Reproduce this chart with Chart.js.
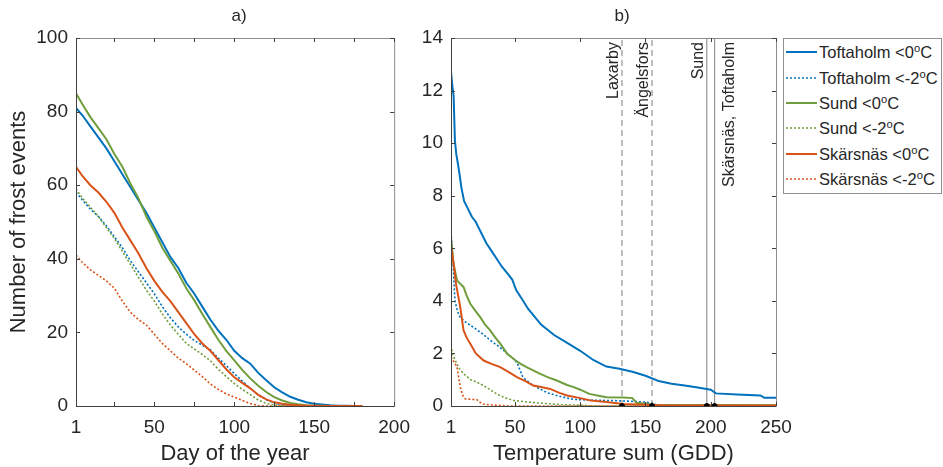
<!DOCTYPE html>
<html><head><meta charset="utf-8">
<script src="https://cdn.jsdelivr.net/npm/chart.js@4/dist/chart.umd.min.js"></script>
<style>
html,body{margin:0;padding:0;background:#fff;}
body{width:943px;height:467px;position:relative;overflow:hidden;font-family:"Liberation Sans",Arial,sans-serif;color:#262626;}
.pane{position:absolute;top:0;height:467px;}
#wa{left:0;width:420px;}
#wb{left:400px;width:543px;}
.ttl{position:absolute;font-size:17px;top:6px;transform:translateX(-50%);}
#legend{position:absolute;left:783px;top:38px;width:159px;height:156px;border:1px solid #8f8f8f;background:#fff;box-sizing:border-box;}
.item{position:absolute;left:2px;height:20px;display:flex;align-items:center;font-size:16.5px;white-space:nowrap;line-height:20px;}
.item svg{margin-right:2px;}
sup{font-size:68%;line-height:0;vertical-align:0.55em;}
</style></head>
<body>
<div class="pane" id="wa"><canvas id="ca"></canvas></div>
<div class="pane" id="wb"><canvas id="cb"></canvas></div>
<div class="ttl" style="left:239px">a)</div>
<div class="ttl" style="left:622px">b)</div>
<div id="legend"></div>
<script>
// ---------- data ----------
const stations = ['Toftaholm', 'Sund', 'Skärsnäs'];
const thresholds = ['<0', '<-2'];

// Panel a: number of frost events after a given day of the year
const days = [1,5,10,15,20,25,30,35,40,45,50,55,60,65,70,75,80,85,90,95,100,105,110,115,120,125,130,135,140,145,150,155,160,165,170,175,180];
const tofDay0  = [81,79,76,73,70,66.5,63,59.5,56,52.5,48.5,44.5,40.5,37.5,33.5,30.5,27,23.5,20.5,18,15,13,11.5,9,7,5.1,3.7,2.5,1.7,1.0,0.6,0.4,0.2,0.1,0.05,0,0];
const tofDay2  = [58,56,53.5,51.5,49,46,43,39.5,36.5,33.5,30.5,27,24,21.5,19.5,17.8,16.5,15.3,13,11,8.8,6.8,4.8,3,1.7,0.8,0.35,0.15,0.05,0,0,0,0,0,0,0,0];
const sunDay0  = [85,82,78.5,75.5,72.5,68.5,65,60.5,56.5,51.5,47.5,43,39.5,36,32,28.7,25,21.5,18,15,12.4,9.8,7.5,5.5,3.8,2.4,1.5,0.8,0.45,0.2,0.1,0.05,0,0,0,0,0];
const sunDay2  = [59,56.5,54,51.5,48.5,45.5,42,38.5,35,31.5,28.5,25,22,19.5,17,15.5,14,12.3,10,8,6.1,4.5,3.1,1.6,0.7,0.25,0.1,0,0,0,0,0,0,0,0,0,0];
const skaDay0  = [65,62.5,60,58,55.5,52.5,48.5,45,41.5,37.5,34,31,28.5,25.5,22.5,19.5,17,15,12.5,10,7.8,6.3,4.8,3,1.8,1.0,0.6,0.35,0.2,0.1,0.05,0,0,0,0,0,0];
const skaDay2  = [41,39,37,35.5,34,32,28.5,25.5,23.5,22,19.5,17,15,13,11.5,9.7,8,6,4.5,3.3,2.4,1.5,0.7,0.1,0,0,0,0,0,0,0,0,0,0,0,0,0];
const dayTicks = [1,25,50,75,100,125,150,175,200];
const dayTickLabels = ['1','','50','','100','','150','','200'];
const countTicks = [0,20,40,60,80,100];

// Panel b: frost events vs temperature sum (GDD)
const tofGdd0x = [1,2,3,4,5,7,9,11,14,17,20,24,28,32,36,40,45,48,51,55,60,65,70,75,80,90,100,110,120,130,140,150,160,170,180,190,200,204,220,238,241,250];
const tofGdd0y = [12.7,12.2,11.8,10.1,9.6,9.0,8.3,7.8,7.5,7.2,7.0,6.6,6.2,5.9,5.6,5.3,5.0,4.8,4.4,4.1,3.7,3.4,3.1,2.9,2.7,2.4,2.1,1.75,1.5,1.42,1.3,1.15,0.95,0.85,0.78,0.7,0.62,0.48,0.44,0.4,0.31,0.31];
const tofGdd2x = [1,2,3,4,6,8,12,18,25,31,38,44,50,52,56,62,69,75,82,90,95,110,130,150,155,160,250];
const tofGdd2y = [6.6,6.0,5.0,4.0,3.6,3.38,3.2,3.0,2.75,2.5,2.25,2.0,1.75,1.6,1.1,0.85,0.65,0.5,0.4,0.3,0.25,0.22,0.2,0.15,0.1,0.03,0.03];
const sunGdd0x = [1,3,5.6,8,10.6,13,15.8,20,23.4,27,31,35,38.7,44,50,54,60,69,75,82,90,95,100,107,115,120,133,140,143,157,250];
const sunGdd0y = [6.4,5.4,4.78,4.65,4.53,4.2,3.89,3.6,3.38,3.1,2.88,2.6,2.37,1.99,1.75,1.61,1.45,1.23,1.1,0.97,0.8,0.72,0.62,0.46,0.38,0.33,0.32,0.3,0.12,0.05,0.03];
const sunGdd2x = [1,2,4.3,7,10.6,16,23.4,30,36,42,48.9,60,69.4,85,100,110,250];
const sunGdd2y = [2.3,2.0,1.73,1.45,1.23,1.0,0.85,0.65,0.46,0.32,0.21,0.15,0.11,0.05,0.03,0,0];
const skaGdd0x = [1,3,5,8.1,10.6,13,15.8,20,26,32,38.7,45,51.5,58,64,70,77,84,90,100,108,120,133,150,165,250];
const skaGdd0y = [6.1,5.4,4.6,3.76,2.88,2.6,2.37,2.0,1.73,1.6,1.48,1.3,1.1,0.95,0.78,0.72,0.65,0.5,0.4,0.3,0.21,0.15,0.08,0.05,0.02,0.02];
const skaGdd2x = [1,3,5.6,8.1,10,12,20.9,24.7,30,36,45,250];
const skaGdd2y = [1.86,1.7,1.48,0.72,0.4,0.27,0.24,0.08,0.05,0.03,0,0];
const gddTicks = [1,50,100,150,200,250];
const eventTicks = [0,2,4,6,8,10,12,14];

// Last frost thresholds per site (GDD)
const markerGdd = [132,155,197,203];
const markerLabels = ['Laxarby','Ängelsfors','Sund','Skärsnäs, Toftaholm'];

// ---------- styling ----------
const FONT = '"Liberation Sans", Arial, sans-serif';
const TXT = '#262626';
const colors = ['#0072BD','#709E3C','#D95319'];
Chart.defaults.font.family = FONT;
Chart.defaults.color = TXT;
Chart.defaults.animation = false;

const seriesA = [[tofDay0,tofDay2],[sunDay0,sunDay2],[skaDay0,skaDay2]];
const seriesB = [[[tofGdd0x,tofGdd0y],[tofGdd2x,tofGdd2y]],[[sunGdd0x,sunGdd0y],[sunGdd2x,sunGdd2y]],[[skaGdd0x,skaGdd0y],[skaGdd2x,skaGdd2y]]];

function styleFor(si, ti){
  return ti === 0
    ? {borderColor: colors[si], borderWidth: 2, borderDash: []}
    : {borderColor: colors[si], borderWidth: 1.6, borderDash: [2,2]};
}

const dsA = [];
stations.forEach((s, si) => thresholds.forEach((t, ti) => {
  const k = si*2+ti;
  dsA.push(Object.assign({
    label: s + ' ' + t,
    data: days.map((d, i) => ({x: d, y: seriesA[si][ti][i]})),
    pointRadius: 0, tension: 0, order: 10 - k
  }, styleFor(si, ti)));
}));
const dsB = [];
stations.forEach((s, si) => thresholds.forEach((t, ti) => {
  const k = si*2+ti;
  const [xs, ys] = seriesB[si][ti];
  dsB.push(Object.assign({
    label: s + ' ' + t,
    data: xs.map((x, i) => ({x: x, y: ys[i]})),
    pointRadius: 0, tension: 0, order: 10 - k
  }, styleFor(si, ti)));
}));
markerGdd.forEach((g, i) => {
  dsB.push({
    label: 'm' + i, data: [{x: g, y: 0}, {x: g, y: 14}],
    borderColor: '#7f7f7f', borderWidth: 1, borderDash: i < 2 ? [6,4] : [],
    pointRadius: 0, order: 20
  });
});
dsB.push({
  label: 'dots', data: markerGdd.map(g => ({x: g, y: 0})),
  showLine: false, pointRadius: 2.5, pointBackgroundColor: '#000', pointBorderColor: '#000', order: -1
});

// inner ticks + box
const boxPlugin = {
  id: 'boxTicks',
  afterDatasetsDraw(chart){
    const {ctx, chartArea: a} = chart;
    const xs = chart.scales.x, ys = chart.scales.y;
    ctx.save();
    ctx.lineWidth = 1;
    ctx.strokeStyle = '#8c8c8c';
    ctx.beginPath();
    ctx.moveTo(a.left, a.top + 0.5); ctx.lineTo(a.right + 0.5, a.top + 0.5); ctx.lineTo(a.right + 0.5, a.bottom);
    ctx.stroke();
    ctx.strokeStyle = '#404040';
    ctx.beginPath();
    ctx.moveTo(a.left + 0.5, a.top); ctx.lineTo(a.left + 0.5, a.bottom + 0.5); ctx.lineTo(a.right + 0.5, a.bottom + 0.5);
    ctx.stroke();
    ctx.beginPath();
    const L = 4;
    xs.ticks.forEach(t => {
      const p = Math.round(xs.getPixelForValue(t.value)) + 0.5;
      ctx.moveTo(p, a.bottom); ctx.lineTo(p, a.bottom - L);
      ctx.moveTo(p, a.top); ctx.lineTo(p, a.top + L);
    });
    ys.ticks.forEach(t => {
      const p = Math.round(ys.getPixelForValue(t.value)) + 0.5;
      ctx.moveTo(a.left, p); ctx.lineTo(a.left + L, p);
      ctx.moveTo(a.right, p); ctx.lineTo(a.right - L, p);
    });
    ctx.stroke();
    ctx.restore();
  }
};

const markerLabelPlugin = {
  id: 'markerLabels',
  afterDatasetsDraw(chart){
    const {ctx, chartArea: a} = chart;
    const xs = chart.scales.x;
    ctx.save();
    ctx.fillStyle = TXT;
    ctx.font = '16px ' + FONT;
    ctx.textAlign = 'right';
    ctx.textBaseline = 'alphabetic';
    markerGdd.forEach((g, i) => {
      const p = xs.getPixelForValue(g);
      const bx = i === markerGdd.length - 1 ? p + 19 : p - 4;
      ctx.save();
      ctx.translate(bx, a.top + 4);
      ctx.rotate(-Math.PI/2);
      ctx.fillText(markerLabels[i], 0, 0);
      ctx.restore();
    });
    ctx.restore();
  }
};

function xScale(min, max, tickVals, labels, title, h){
  return {
    type: 'linear', min: min, max: max,
    grid: {display: false, drawTicks: false}, border: {display: false},
    afterBuildTicks: s => { s.ticks = tickVals.map(v => ({value: v})); },
    afterFit: s => { s.height = h; },
    ticks: {autoSkip: false, maxRotation: 0, padding: 10, color: TXT, font: {size: 19},
            callback: (v, i) => labels[i]},
    title: {display: true, text: title, color: TXT, font: {size: 22}, padding: {top: 0, bottom: 0}}
  };
}
function yScale(min, max, tickVals, title, w){
  const sc = {
    type: 'linear', min: min, max: max,
    grid: {display: false, drawTicks: false}, border: {display: false},
    afterBuildTicks: s => { s.ticks = tickVals.map(v => ({value: v})); },
    afterFit: s => { s.width = w; },
    ticks: {autoSkip: false, padding: 8, color: TXT, font: {size: 19}, callback: v => String(v)}
  };
  if (title) sc.title = {display: true, text: title, color: TXT, font: {size: 22}, padding: {top: 6, bottom: 0}};
  return sc;
}

new Chart(document.getElementById('ca'), {
  type: 'line',
  data: {datasets: dsA},
  options: {
    responsive: true, maintainAspectRatio: false, devicePixelRatio: 1,
    layout: {padding: {left: 0, right: 18, top: 38, bottom: 0}},
    plugins: {legend: {display: false}, tooltip: {enabled: false}},
    scales: {
      x: xScale(1, 200, dayTicks, dayTickLabels, 'Day of the year', 61),
      y: yScale(0, 100, countTicks, 'Number of frost events', 76)
    }
  },
  plugins: [boxPlugin]
});

new Chart(document.getElementById('cb'), {
  type: 'line',
  data: {datasets: dsB},
  options: {
    responsive: true, maintainAspectRatio: false, devicePixelRatio: 1,
    layout: {padding: {left: 0, right: 167, top: 38, bottom: 0}},
    plugins: {legend: {display: false}, tooltip: {enabled: false}},
    scales: {
      x: xScale(1, 250, gddTicks, gddTicks.map(String), 'Temperature sum (GDD)', 61),
      y: yScale(0, 14, eventTicks, null, 51)
    }
  },
  plugins: [boxPlugin, markerLabelPlugin]
});

// HTML legend
const leg = document.getElementById('legend');
const rowTop = [3, 29, 54, 79, 105, 130];
const SVGNS = 'http://www.w3.org/2000/svg';
stations.forEach((s, si) => thresholds.forEach((t, ti) => {
  const k = si*2+ti;
  const it = document.createElement('div');
  it.className = 'item';
  it.style.top = rowTop[k] + 'px';
  const svg = document.createElementNS(SVGNS, 'svg');
  svg.setAttribute('width', '31'); svg.setAttribute('height', '6');
  const ln = document.createElementNS(SVGNS, 'line');
  ln.setAttribute('x1', '0'); ln.setAttribute('x2', '31');
  ln.setAttribute('y1', '3'); ln.setAttribute('y2', '3');
  ln.setAttribute('stroke', colors[si]);
  ln.setAttribute('stroke-width', ti === 0 ? '2' : '1.6');
  if (ti === 1) ln.setAttribute('stroke-dasharray', '2 2');
  svg.appendChild(ln);
  const tx = document.createElement('span');
  tx.appendChild(document.createTextNode(s + ' ' + t));
  const sup = document.createElement('sup'); sup.textContent = 'o';
  tx.appendChild(sup);
  tx.appendChild(document.createTextNode('C'));
  it.appendChild(svg); it.appendChild(tx);
  leg.appendChild(it);
}));
</script>
</body></html>
